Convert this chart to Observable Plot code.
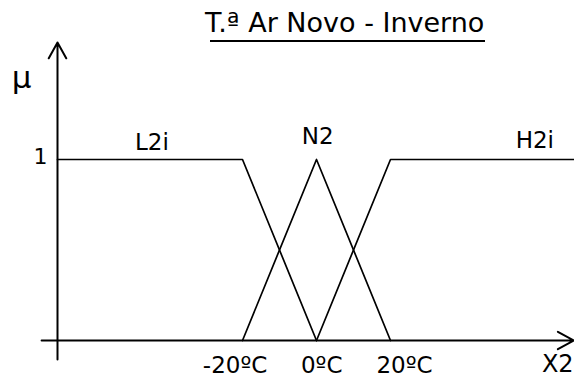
<!DOCTYPE html>
<html><head><meta charset="utf-8">
<script src="https://cdn.jsdelivr.net/npm/d3@7"></script>
<script src="https://cdn.jsdelivr.net/npm/@observablehq/plot@0.6"></script>
<style>
body{margin:0;background:#fff;}
#wrap{position:relative;width:574px;height:376px;font-family:"DejaVu Sans",Verdana,sans-serif;}
#title{position:absolute;left:205px;top:7px;font-size:27px;line-height:31px;color:#000;white-space:nowrap;}
#title::after{content:"";position:absolute;left:5px;right:-1px;top:33px;height:2px;background:#000;}
#wrap svg{position:absolute;left:0;top:0;}
</style></head><body>
<div id="wrap"></div>
<script>
const titleText = "T.ª Ar Novo - Inverno";
// membership functions (x in ºC, mu)
const setNames = ["L2i", "N2", "H2i"];
const L2i_x = [-70, -20, 0];  const L2i_mu = [1, 1, 0];
const N2_x  = [-20, 0, 20];   const N2_mu  = [0, 1, 0];
const H2i_x = [0, 20, 70];    const H2i_mu = [0, 1, 1];
// set label positions (data units)
const setLabelX  = [-44.5, 0.3, 59];
const setLabelMu = [1.055, 1.088, 1.061];
// x tick labels
const tickValues = [-20, 0, 20];
const tickLabels = ["-20ºC", "0ºC", "20ºC"];
const tickLabelX = [-22, 1.4, 23.8];
// y tick
const yTickValues = [1];
const yTickLabels = ["1"];
// axis extents
const xAxisExtent = [-74.3, 69.5];
const yAxisExtent = [-0.105, 1.646];
const xAxisName = "X2";
const yAxisName = "μ";

const series = [[L2i_x, L2i_mu], [N2_x, N2_mu], [H2i_x, H2i_mu]];
const rows = [];
series.forEach(([xs, ms], i) => xs.forEach((x, j) => rows.push({set: setNames[i], x, mu: ms[j]})));
const setLabels = setNames.map((s, i) => ({s, x: setLabelX[i], mu: setLabelMu[i]}));
const tickRows = tickLabels.map((t, i) => ({t, x: tickLabelX[i], v: tickValues[i]}));

const font = "DejaVu Sans, Verdana, sans-serif";
const chart = Plot.plot({
  width: 574, height: 376, margin: 0,
  x: {domain: [-70, 70], range: [57, 575], axis: null},
  y: {domain: [0, 1], range: [340, 159], axis: null},
  style: {fontFamily: font, background: "transparent", color: "#000"},
  marks: [
    Plot.arrow([{x1: xAxisExtent[0], x2: xAxisExtent[1], y: 0}], {x1: "x1", x2: "x2", y1: "y", y2: "y", stroke: "#000", strokeWidth: 2, headLength: 13.5, headAngle: 58}),
    Plot.arrow([{x: -70, y1: yAxisExtent[0], y2: yAxisExtent[1]}], {x1: "x", x2: "x", y1: "y1", y2: "y2", stroke: "#000", strokeWidth: 2, headLength: 13.5, headAngle: 58}),
    Plot.line(rows, {x: "x", y: "mu", z: "set", stroke: "#000", strokeWidth: 1.7}),
    Plot.text(setLabels, {x: "x", y: "mu", text: "s", fontSize: 23, lineAnchor: "bottom", fill: "#000"}),
    Plot.text(tickRows, {x: "x", y: 0, text: "t", fontSize: 23, lineAnchor: "bottom", dy: 32, fill: "#000"}),
    Plot.text(yTickLabels.map((t, i) => ({t, v: yTickValues[i]})), {x: -70, y: "v", text: "t", fontSize: 22, lineAnchor: "bottom", textAnchor: "end", dx: -10, dy: 4, fill: "#000"}),
    Plot.text([yAxisName], {x: -70, y: yAxisExtent[1], text: d => d, fontSize: 31, lineAnchor: "bottom", dx: -36, dy: 45, fill: "#000"}),
    Plot.text([xAxisName], {x: xAxisExtent[1], y: 0, text: d => d, fontSize: 24, lineAnchor: "bottom", textAnchor: "end", dy: 31, fill: "#000"})
  ]
});
const wrap = document.getElementById("wrap");
wrap.appendChild(chart);
const t = document.createElement("div");
t.id = "title"; t.textContent = titleText;
wrap.appendChild(t);
</script>
</body></html>
